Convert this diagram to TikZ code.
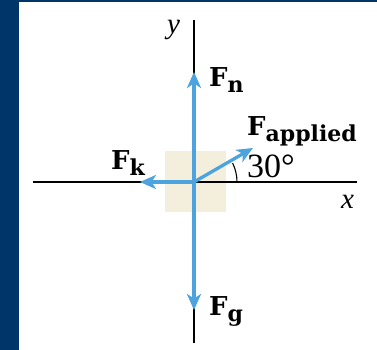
\documentclass[tikz,border=0pt]{standalone}
\usepackage{fontspec}
\setmainfont{Liberation Serif}
\newfontfamily\forcefont{DejaVu Serif}
\usetikzlibrary{arrows.meta}
\definecolor{navy}{HTML}{00356A}
\definecolor{forceblue}{HTML}{4DA3DD}
\definecolor{blockfill}{HTML}{F3EFDC}
\tikzset{
  force/.style={line width=3.3pt,forceblue,-{Stealth[length=16pt,width=14pt,inset=4.5pt]}},
  axis/.style={line width=1.2pt,black},
  flabel/.style={anchor=base west,inner sep=0pt,font=\forcefont\bfseries\fontsize{26}{26}\selectfont},
  alabel/.style={anchor=base west,inner sep=0pt,font=\itshape\fontsize{29}{29}\selectfont}
}
\newcommand{\fsub}[1]{\raisebox{-6pt}{\fontsize{22}{22}\selectfont #1}}
\begin{document}
\begin{tikzpicture}[x=1pt,y=1pt]
% frame
\fill[navy] (-194,-168) rectangle (183,182);
\fill[white] (-175,-168) rectangle (183,180);
\useasboundingbox (-194,-168) rectangle (183,182);
% block
\fill[blockfill] (-29,-30) rectangle (32,31);
% axes
\coordinate (O) at (0,0);
\coordinate (xl) at (-161,0);
\coordinate (xr) at (163,0);
\coordinate (yt) at (0,162);
\coordinate (yb) at (0,-161);
\draw[axis] (xl) -- (xr);
\draw[axis] (yb) -- (yt);
\node[alabel] (ylab) at (-27,148) {y};
\node[alabel] (xlab) at (147,-27) {x};
% forces
\coordinate (Fntip) at (0,110);
\coordinate (Fgtip) at (0,-128);
\coordinate (Fktip) at (-54,0);
\coordinate (Fatip) at (30:68);
\draw[force] (O) -- (Fntip);
\draw[force] (O) -- (Fgtip);
\draw[force] (O) -- (Fktip);
\draw[force] (O) -- (Fatip);
% angle
\draw[line width=1.1pt] (43,0) arc[start angle=0,end angle=26,radius=43];
\node[anchor=base west,inner sep=0pt,font=\fontsize{34}{34}\selectfont] (ang) at (53,4) {30°};
% labels
\node[flabel] (Fn) at (15,95) {F\fsub{n}};
\node[flabel] (Fa) at (53,46) {F\fsub{applied}};
\node[flabel] (Fk) at (-83,12) {F\fsub{k}};
\node[flabel] (Fg) at (15,-133) {F\fsub{g}};
\end{tikzpicture}
\end{document}
